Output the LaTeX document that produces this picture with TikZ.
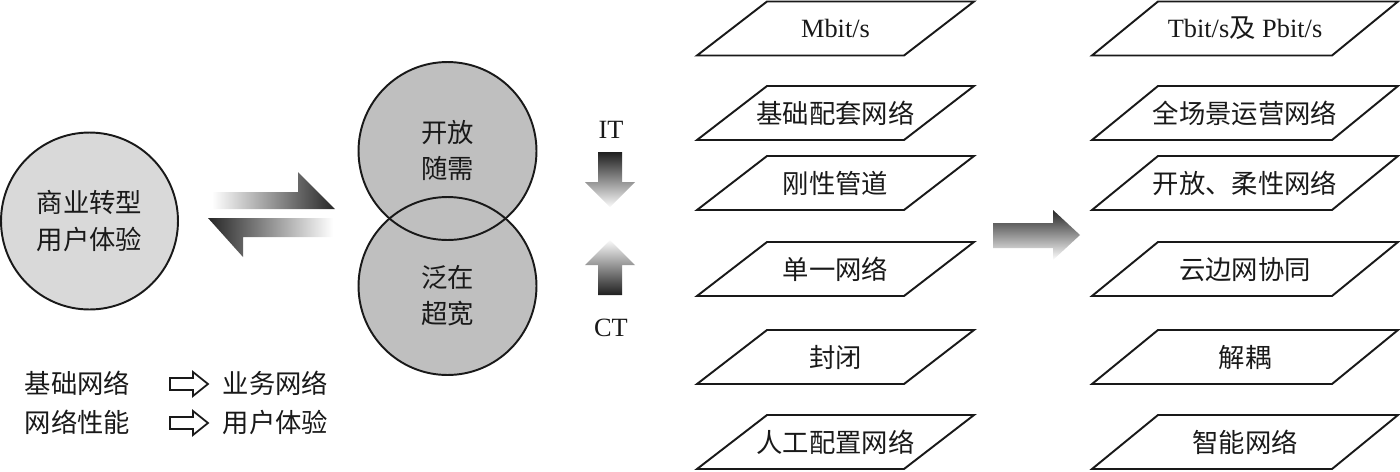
\documentclass[tikz,border=0pt]{standalone}
\usepackage{fontspec}
\setmainfont{Liberation Serif}
\newfontfamily\cjk{Noto Sans CJK SC}
\begin{document}
\begin{tikzpicture}[x=0.02cm,y=-0.02cm,
  lat/.style={font=\fontsize{15}{20.5}\selectfont, align=center, inner sep=0pt, text=black!90},
  cjktxt/.style={font=\cjk\fontsize{15}{20.5}\selectfont, align=center, inner sep=0pt, text=black!90},
  pline/.style={draw=black!90, line width=1.1pt, line join=miter},
  bigcirc/.style={circle, inner sep=0pt, line width=1.1pt},
  outarrow/.style={draw=black!90, line width=1pt, fill=white}]
\useasboundingbox (0,0) rectangle (1400,471);

% left circle
\node[bigcirc, draw=black!90, fill=black!15, minimum size=3.54cm] (biz) at (89.5,221) {};
\node[cjktxt] (bizt) at (89.5,221) {商业转型\\用户体验};

% double arrows
\shade[left color=white, right color=black!85]
  (212,192) -- (298,192) -- (298,172) -- (335,209) -- (212,209) -- cycle;
\shade[left color=black!85, right color=white]
  (208,218) -- (333,218) -- (333,237) -- (243,237) -- (243,257) -- cycle;

% middle circles
\node[bigcirc, fill=black!25, minimum size=3.56cm] (open) at (447.5,151) {};
\node[bigcirc, fill=black!25, minimum size=3.56cm] (ubiq) at (447.5,286) {};
\draw[line width=1.1pt, black!90] (open.center) circle[radius=1.78cm];
\draw[line width=1.1pt, black!90] (ubiq.center) circle[radius=1.78cm];
\node[cjktxt] (opent) at (447.5,150) {开放\\随需};
\node[cjktxt] (ubiqt) at (447.5,295.5) {泛在\\超宽};

% IT / CT
\node[lat] (it) at (611,130) {IT};
\node[lat] (ct) at (611,328) {CT};
\shade[top color=black!88, bottom color=black!2]
  (598,152) -- (622,152) -- (622,182) -- (635,182) -- (610,207) -- (585,182) -- (598,182) -- cycle;
\shade[top color=black!2, bottom color=black!88]
  (598,295) -- (622,295) -- (622,265) -- (635,265) -- (610,240) -- (585,265) -- (598,265) -- cycle;

% legend
\node[cjktxt] (l1a) at (77.5,383) {基础网络};
\node[cjktxt] (l1b) at (275.5,383) {业务网络};
\node[cjktxt] (l2a) at (77.5,422) {网络性能};
\node[cjktxt] (l2b) at (275.5,422) {用户体验};
\draw[outarrow] (170,378) -- (193,378) -- (193,372) -- (208,384) -- (193,396) -- (193,390) -- (170,390) -- cycle;
\draw[outarrow] (170,417) -- (193,417) -- (193,411) -- (208,423) -- (193,435) -- (193,429) -- (170,429) -- cycle;

% parallelograms
\newcommand\pgram[4]{\draw[pline] (#1,#2+54) -- ++(#3,0) -- ++(#4,-54) -- ++(-#3,0) -- cycle;}
\pgram{697}{1.5}{207}{70}
\pgram{697}{86}{207}{70}
\pgram{697}{156}{207}{70}
\pgram{697}{242}{207}{70}
\pgram{697}{330}{207}{70}
\pgram{697}{415}{207}{70}
\pgram{1092}{1.5}{240}{66}
\pgram{1092}{86}{240}{66}
\pgram{1092}{156}{240}{66}
\pgram{1092}{242}{240}{66}
\pgram{1092}{330}{240}{66}
\pgram{1092}{415}{240}{66}

\node[lat] (a1) at (835.5,28) {Mbit/s};
\node[cjktxt] (a2) at (835.5,113) {基础配套网络};
\node[cjktxt] (a3) at (835.5,183.5) {刚性管道};
\node[cjktxt] (a4) at (835.5,269.5) {单一网络};
\node[cjktxt] (a5) at (835.5,357.5) {封闭};
\node[cjktxt] (a6) at (835.5,442) {人工配置网络};

\node[lat] (b1) at (1245,28) {Tbit/s{\cjk 及} Pbit/s};
\node[cjktxt] (b2) at (1245,113) {全场景运营网络};
\node[cjktxt] (b3) at (1245,183.5) {开放、柔性网络};
\node[cjktxt] (b4) at (1245,269.5) {云边网协同};
\node[cjktxt] (b5) at (1245,357.5) {解耦};
\node[cjktxt] (b6) at (1245,442) {智能网络};

% right arrow
\shade[top color=black!85, middle color=black!40, bottom color=white]
  (993,223) -- (1053,223) -- (1053,210) -- (1080,235) -- (1053,260) -- (1053,248) -- (993,248) -- cycle;
\end{tikzpicture}
\end{document}
